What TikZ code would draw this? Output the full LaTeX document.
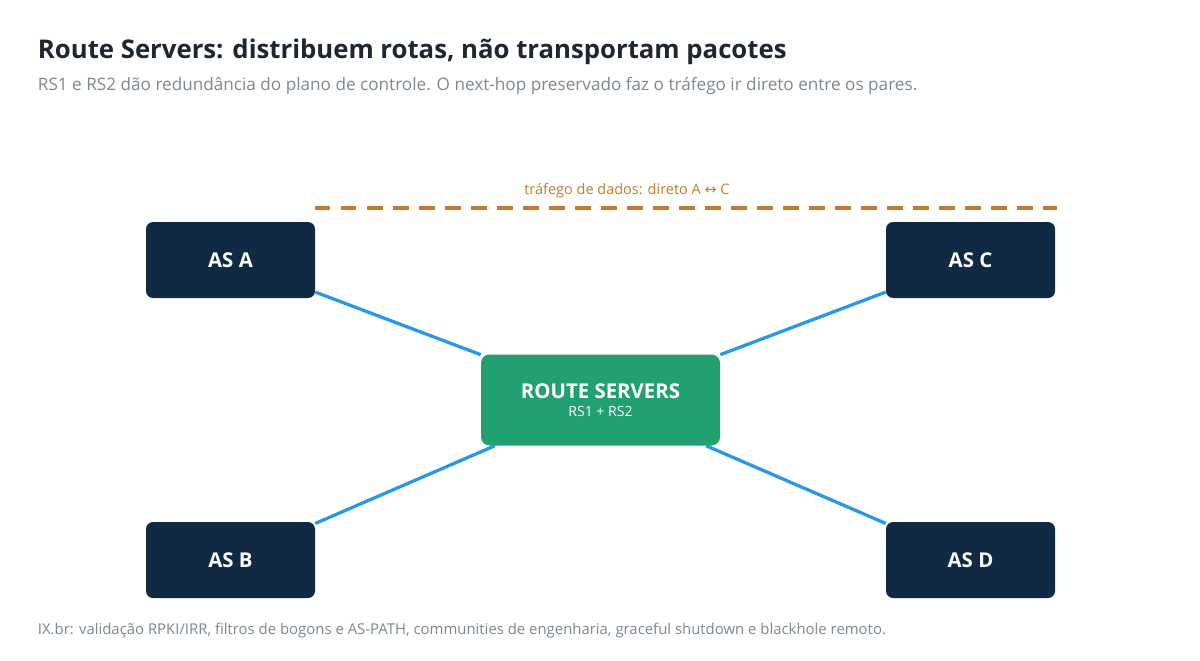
\documentclass[tikz,border=0pt]{standalone}
\usepackage{fontspec}
\setmainfont{Open Sans}
\newfontfamily\symfont{DejaVu Sans}
\usetikzlibrary{positioning}
\definecolor{navy}{RGB}{16,42,67}
\definecolor{rsgreen}{RGB}{32,161,111}
\definecolor{linkblue}{RGB}{40,150,235}
\definecolor{dataorange}{RGB}{200,122,45}
\definecolor{txtgray}{RGB}{125,135,150}
\definecolor{titlecol}{RGB}{30,38,50}
\begin{document}
\begin{tikzpicture}[x=0.025cm,y=-0.025cm,
	asbox/.style={fill=navy,rounded corners=5pt,minimum width=169*0.025cm,minimum height=76*0.025cm,text=white,font=\fontsize{14.5}{16}\selectfont\bfseries},
	link/.style={linkblue,line width=2.3pt}]
	\useasboundingbox [fill=white] (0,0) rectangle (1200,660);
	% Header %
	\node (title) [anchor=west,text=titlecol,font=\fontsize{18.3}{22}\selectfont\bfseries] at (33,52) {Route Servers: distribuem rotas, não transportam pacotes};
	\node (subtitle) [anchor=west,text=txtgray,font=\fontsize{12.2}{14}\selectfont] at (33,86) {RS1 e RS2 dão redundância do plano de controle. O next-hop preservado faz o tráfego ir direto entre os pares.};
	% Peers %
	\node (asa) [asbox] at (230.5,260) {AS A};
	\node (asc) [asbox] at (970.5,260) {AS C};
	\node (asb) [asbox] at (230.5,560) {AS B};
	\node (asd) [asbox] at (970.5,560) {AS D};
	% Route Servers %
	\node (rs) [fill=rsgreen,rounded corners=6pt,minimum width=239*0.025cm,minimum height=91*0.025cm,text=white,align=center] at (600.5,400)
		{{\fontsize{14.5}{17}\selectfont\bfseries ROUTE SERVERS}\\[1pt]{\fontsize{10}{12}\selectfont RS1 + RS2}};
	% Sessions %
	\foreach \p in {asa,asb,asc,asd}
		{\draw [link] (\p) -- (rs);}
	% Data plane %
	\coordinate (dstart) at (315,208);
	\coordinate (dend) at (1057,208);
	\draw [dataorange,line width=2.3pt,dash pattern=on 11pt off 7.5pt] (dstart) -- (dend);
	\node (datalabel) [text=dataorange,font=\fontsize{10.3}{12}\selectfont] at (627,191) {tráfego de dados: direto A {\symfont↔} C};
	% Footer %
	\node (footer) [anchor=west,text=txtgray,font=\fontsize{10.6}{12}\selectfont] at (33,631) {IX.br: validação RPKI/IRR, filtros de bogons e AS-PATH, communities de engenharia, graceful shutdown e blackhole remoto.};
\end{tikzpicture}
\end{document}
